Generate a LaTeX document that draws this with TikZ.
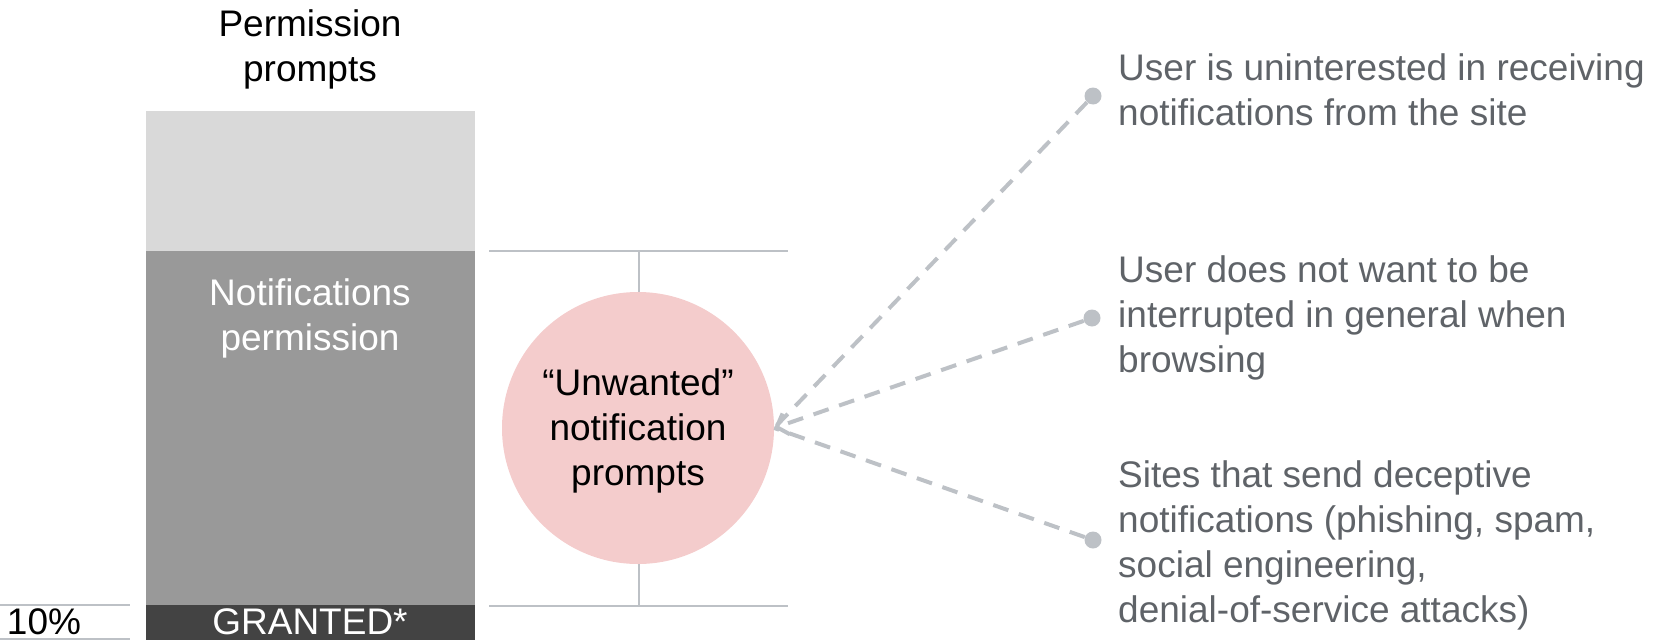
\documentclass[tikz,border=0pt]{standalone}
\usepackage{fontspec}
\setmainfont{Liberation Sans}
\usetikzlibrary{arrows.meta}
\definecolor{barlight}{HTML}{D9D9D9}
\definecolor{barmid}{HTML}{999999}
\definecolor{bardark}{HTML}{434343}
\definecolor{pinkc}{HTML}{F4CCCC}
\definecolor{lineg}{HTML}{BDC1C6}
\definecolor{textg}{HTML}{5F6368}
\begin{document}
\begin{tikzpicture}[x=1pt,y=-1pt,
  txt/.style={inner sep=0pt, font=\fontsize{37}{45}\selectfont},
  ctxt/.style={txt, align=center},
  rtxt/.style={txt, align=left, anchor=west, text=textg},
  thinline/.style={draw=lineg, line width=1.6pt},
  dashline/.style={draw=lineg, line width=4pt, dash pattern=on 16pt off 11pt},
  dotnode/.style={circle, fill=lineg, inner sep=0pt, minimum size=17pt},
  barseg/.style={inner sep=0pt, minimum width=329pt, outer sep=0pt}]
\useasboundingbox (0,0) rectangle (1654,640);

% bar
\node[barseg, fill=barlight, minimum height=140pt] (light) at (310.5,181) {};
\node[barseg, fill=barmid, minimum height=354pt] (mid) at (310.5,428) {};
\node[barseg, fill=bardark, minimum height=35pt] (dark) at (310.5,622.5) {};

\node[ctxt] (title) at (310,49) {Permission\\prompts};
\node[ctxt, text=white] (np) at (310,318) {Notifications\\permission};
\node[txt, text=white] (granted) at (310,621.5) {GRANTED*};
\node[txt] (ten) at (44,621.5) {10\%};

% scale lines
\coordinate (s1) at (0,605); \coordinate (s2) at (130,605);
\coordinate (s3) at (0,639); \coordinate (s4) at (130,639);
\draw[thinline] (s1) -- (s2);
\draw[thinline] (s3) -- (s4);

% bracket
\coordinate (b1) at (489,251); \coordinate (b2) at (788,251);
\coordinate (b3) at (489,606); \coordinate (b4) at (788,606);
\coordinate (bt) at (639,251); \coordinate (bb) at (639,606);
\draw[thinline] (b1) -- (b2);
\draw[thinline] (b3) -- (b4);
\draw[thinline] (bt) -- (bb);

% circle
\node[circle, fill=pinkc, minimum size=272pt, inner sep=0pt] (circ) at (638,428) {};
\node[ctxt] (circtxt) at (638,430.5) {“Unwanted”\\notification\\prompts};

% dots
\node[dotnode] (d1) at (1093,96) {};
\node[dotnode] (d2) at (1092,318) {};
\node[dotnode] (d3) at (1093,540) {};

\draw[dashline] (d1) -- (circ.east);
\draw[dashline, -{Straight Barb[length=10pt,width=22pt,line width=4pt]}] (d2) -- (circ.east);
\draw[dashline] (d3) -- (circ.east);

% right texts
\node[rtxt] (r1) at (1118,90) {User is uninterested in receiving\\notifications from the site};
\node[rtxt] (r2) at (1118,318) {User does not want to be\\interrupted in general when\\browsing};
\node[rtxt] (r3) at (1118,545.5) {Sites that send deceptive\\notifications (phishing, spam,\\social engineering,\\denial-of-service attacks)};
\end{tikzpicture}
\end{document}
